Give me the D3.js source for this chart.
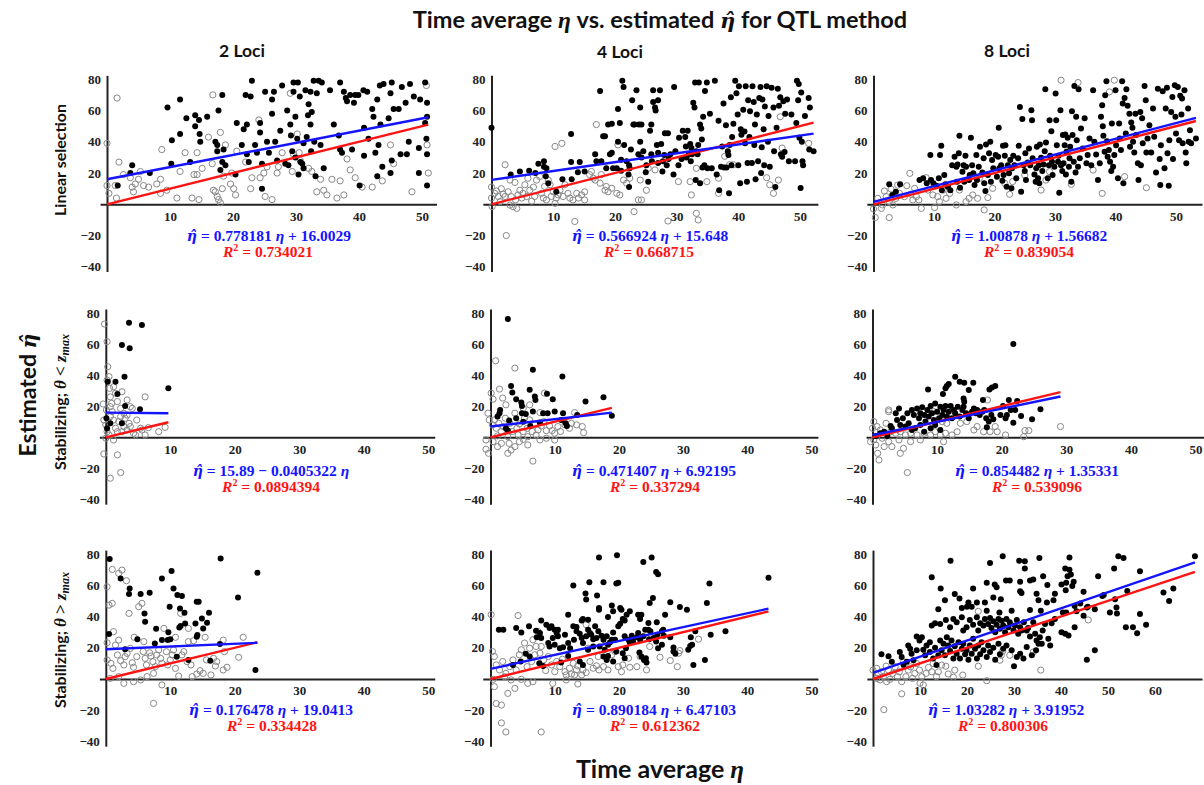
<!DOCTYPE html>
<html><head><meta charset="utf-8">
<script src="https://cdn.jsdelivr.net/npm/d3@7"></script>
<style>
body{margin:0;background:#fff;}
svg{display:block;}
</style></head><body>
<svg id="chart" width="1204" height="785"></svg>
<script>
// ---------- DATA ----------
const columnLabels = ["2 Loci", "4 Loci", "8 Loci"];
const rowLabels = ["Linear selection", "Stabilizing; ", "Stabilizing; "];
const rowSymbols = ["", "<", ">"];
const xTicks = [10, 20, 30, 40, 50];
const xTicksWide = [10, 20, 30, 40, 50, 60];
const yTicks = [80, 60, 40, 20, -20, -40];
const fitSlope = [0.778181, 0.566924, 1.00878, -0.0405322, 0.471407, 0.854482, 0.176478, 0.890184, 1.03282];
const fitIntercept = [16.0029, 15.648, 1.56682, 15.89, 6.92195, 1.35331, 19.0413, 6.47103, 3.91952];
const rSquared = [0.734021, 0.668715, 0.839054, 0.0894394, 0.337294, 0.539096, 0.334428, 0.612362, 0.800306];

const ls2Filled = [[1.7,12],[4,25],[3.7,20],[6.8,20],[9.6,62],[10.2,26],[10.3,41],[11.6,67],[11.6,45],[12.6,55],[13.2,27],[14,57],[14,50],[14.6,54],[14.7,45],[14.8,40],[15.9,56],[17.2,40],[17.5,38],[17.5,34],[17.7,60],[18,22],[18.3,27],[18.3,70],[18.5,35],[18.8,25],[20.4,19],[20.6,52],[21.4,38],[21.7,48],[22,70],[22.2,51],[22.2,32],[22.5,27],[22.8,69],[23,79],[23.5,38],[23.8,33],[24.3,46],[24.3,52],[24.6,10],[24.6,26],[25.1,72],[25.4,40],[25.7,33],[26.2,67],[26.2,58],[26.5,72],[26.7,40],[27,28],[27.5,47],[27.8,76],[28.3,26],[28.6,60],[28.8,25],[29.1,51],[29.2,44],[29.4,34],[29.6,78],[29.6,72],[29.9,56],[29.9,30],[30.2,42],[30.3,78],[30.4,19],[30.6,69],[30.7,27],[31,26],[31.2,39],[31.2,23],[31.5,73],[31.7,43],[31.9,57],[32,64],[32.3,51],[32.3,72],[32.4,34],[32.5,59],[32.8,79],[32.9,40],[33.1,18],[33.3,71],[33.6,79],[33.9,38],[34.1,78],[34.4,23],[35.4,73],[36,51],[36.8,44],[37,35],[37,78],[37.3,33],[37.6,72],[37.9,68],[38.1,66],[38.6,70],[38.9,35],[39.2,65],[39.4,70],[39.9,70],[40.1,12],[40.7,73],[40.8,49],[40.8,31],[41.3,72],[41.5,42],[42.1,61],[42.3,56],[42.6,33],[42.9,18],[42.9,67],[43.1,38],[43.3,76],[43.4,51],[43.7,24],[43.9,77],[44.7,55],[45,71],[45,20],[45.2,78],[45.2,28],[45.5,61],[46.3,61],[46.6,32],[46.8,75],[47.4,65],[47.6,32],[47.9,40],[48.1,77],[48.7,69],[49.5,20],[49.7,67],[49.5,36],[50.5,78],[50.7,42],[50.8,56],[50.8,32],[50.8,12],[50.8,65],[50.5,52]];
const ls2Open = [[0,39],[0,12],[0.3,7],[1.3,12],[1.6,68],[1.9,27],[1.5,4],[2.6,19],[3.7,17],[4,11],[4.2,8],[5,16],[5.3,21],[5.8,12],[4.5,13],[6.6,11],[7.9,13],[8.5,7],[8.7,35],[8.5,16],[9.5,9],[11.1,4],[11.6,21],[12.4,33],[13.5,4],[13.8,19],[14.3,33],[14.3,19],[14.6,3],[15.1,23],[16.1,43],[16.7,26],[16.9,9],[17.2,8],[17.5,5],[17.7,3],[18,1],[18.3,10],[16.8,70],[18,46],[18.5,18],[18.8,38],[19.6,13],[19.8,20],[20.1,10],[20.4,6],[20.6,34],[22,27],[22.8,10],[23,17],[24.1,54],[24.3,17],[24.9,20],[25.1,5],[25.4,24],[26.2,3],[27,20],[27.2,24],[27.8,33],[29.1,71],[29.4,21],[29.6,32],[30.2,45],[30.5,33],[30.7,28],[32,23],[32.5,21],[33.3,8],[33.9,16],[34.4,9],[34.9,6],[35.7,16],[36.5,4],[37,15],[37.6,6],[38.1,29],[38.6,22],[39.4,17],[40.5,11],[42.1,11],[43.7,15],[45,38],[45.5,26],[48.4,8],[50.7,76],[50.8,38],[51,20]];

const ls4Filled = [[0,49],[3.1,19],[4.6,21],[6.1,21.5],[7.1,20],[7.6,26],[8.5,27.5],[8.5,24],[8.8,18],[8.9,23],[9.2,13.5],[10.5,8],[11.5,16],[12.9,45],[13,16],[12.9,27],[14,20.5],[14.3,27],[15.1,21],[16.8,32],[17,27.5],[17.6,72.5],[17.8,27.5],[18.1,43.5],[18.4,43.5],[18.6,23],[18.9,51],[19.2,32],[19.5,33],[19.5,51.5],[19.7,23],[20.3,23],[20.5,40],[20.5,61],[20.8,52],[21,28.5],[21,21.5],[21.2,79],[21.4,75],[21.5,38],[21.9,27.5],[22.2,19],[22.3,25],[22.3,11],[22.4,23],[22.6,35],[22.8,66.5],[23,51],[23.2,51],[23.5,73],[23.8,32],[23.9,51],[24.1,62],[24.1,40],[24.3,51],[24.3,30],[24.6,34],[25,20.5],[25.1,25],[25.4,14.5],[25.7,47],[25.9,51],[25.9,32],[26,27.5],[26.2,73],[26.2,65.5],[26.5,62],[26.6,60],[26.8,38],[27,33],[27,66.5],[27,26.5],[27.3,73],[27.5,38.5],[27.7,21],[27.8,27.5],[28,31.5],[28.1,45.5],[28.4,25],[28.6,45.5],[28.7,29],[29,32],[29.5,19],[29.6,75],[29.8,34],[30.3,25],[30.4,42.5],[30.8,29],[31,47],[31.4,43],[31.5,37],[31.6,30],[31.8,47],[32,32],[32.2,38.5],[32.3,27.5],[32.4,36],[32.5,32],[32.7,65],[32.9,62],[33,78],[33.1,15.5],[33.2,34],[33.4,32],[33.5,38],[33.6,78],[33.8,51],[33.8,13.5],[34,48.5],[34.1,41.5],[34.2,23.5],[34.3,56],[34.5,25],[34.6,72.5],[34.9,78],[35,23],[35.4,58],[35.7,23],[36.2,79],[36.5,19],[36.8,53.5],[36.9,9],[37.2,24],[37.4,37],[37.6,64.5],[37.7,23.5],[38,50.5],[38.1,23.5],[38.3,34],[38.4,31.5],[38.5,7],[38.6,38],[38.8,68.5],[38.9,25],[39,43],[39.2,51.5],[39.5,79],[39.7,71],[39.9,57.5],[40,25],[40.1,75.5],[40.3,13.5],[40.4,48],[40.5,44.5],[40.8,60.5],[41,46.5],[41.1,39],[41.2,75.5],[41.4,14.5],[41.5,26.5],[41.6,66.5],[41.8,43],[41.9,59.5],[42.2,26.5],[42.3,75.5],[42.5,65.5],[42.6,38],[42.7,51],[42.8,16],[43,57.5],[43.2,27.5],[43.4,68],[43.6,75],[43.7,20],[43.8,36.5],[43.9,67],[44.1,48],[44.2,25],[44.3,62.5],[44.6,75.5],[44.8,40],[44.9,56.5],[45.1,24],[45.4,74.5],[45.7,62],[45.8,34],[46,11],[46.2,49],[46.4,74],[46.6,63],[46.8,68.5],[46.9,32],[47.1,30.5],[47.3,66],[47.5,33.5],[47.6,58],[47.9,67],[48.2,27.5],[48.6,57.5],[49.2,27.5],[49.4,52],[49.5,79],[49.7,66.5],[49.8,77],[49.9,42.5],[50.1,10.5],[50.2,71.5],[50.3,40],[50.4,27.5],[50.5,25],[50.8,56.5],[51.4,68],[51.5,35],[51.6,62],[52.2,34]];
const ls4Open = [[0,11],[0,4],[0.1,-1.5],[0.5,7],[0.8,8.5],[1.1,5],[1.4,1.7],[1.6,10],[1.9,6.5],[2.2,25.3],[2.2,5],[2.4,-20],[2.7,8],[3,15.5],[3,-0.5],[3.2,5],[3.5,-1.5],[3.8,14],[3.9,2.8],[4.1,-2.6],[4.3,6],[4.6,9],[4.9,4],[5.1,7],[5.4,12.5],[5.7,5],[5.9,16.7],[6.2,9],[6.5,2],[6.8,11],[7,5],[7.3,15.5],[7.8,17.8],[8.1,7],[8.4,4],[8.6,11.4],[8.9,2.8],[9.2,15.5],[9.5,12.5],[9.7,5],[10,8],[10.3,0.6],[10.3,37],[10.5,4],[10.8,6],[11.1,9],[11.4,39],[11.6,5],[11.9,12.5],[12.4,7],[12.7,4],[13.2,2.8],[13.5,-11],[13.8,7],[14.1,4],[14.6,6],[15.1,2.8],[15.1,8],[15.9,19],[16.2,21],[16.5,16.7],[16.8,15.5],[17,51],[17.6,13.5],[17.8,19],[18.4,9],[18.6,11.4],[18.9,8],[19.5,10.3],[20.3,7],[20.5,38],[20.8,6],[21.4,15.5],[21.9,13.5],[22.4,16.7],[23.1,-4.7],[23.8,2.8],[24.1,15.5],[24.3,2.8],[25.1,9],[25.4,23],[26.5,22],[28.6,-10.7],[30.3,14.5],[32.2,14.5],[32.4,6],[33.2,-5.8],[33.5,-10],[33.2,23],[34.9,14.5],[36.8,16.7],[36.8,7],[37.8,30.7],[38.6,25.3],[39.2,25.3],[44.6,17],[45.1,12.5],[45.7,7],[46.5,15.5],[46.8,56],[47.1,36],[51.4,39]];

const ls8Filled = [[2.6,12.8],[4.4,12.8],[3.7,8],[3.1,6],[7.6,15.5],[8.2,16.6],[8.8,13.4],[9.4,31.5],[9.5,15.5],[9.9,13.4],[10.4,11.9],[10.8,16.6],[11,31.5],[11.2,37.4],[11.3,9],[11.7,18.7],[11.9,12.8],[12.3,11.3],[12.7,9],[13,25],[13.4,30.4],[13.7,24],[13.8,14.5],[13.9,25.5],[14.1,32.6],[14.2,43.8],[14.3,10.6],[14.7,20.9],[14.9,25],[15,14.5],[15.2,31],[15.3,24],[15.8,15.5],[15.9,18.7],[16.1,42.6],[16.3,25],[16.5,19.8],[16.7,12.3],[17,31.5],[17.1,15.5],[17.4,24],[17.6,36.8],[18,20.4],[18.2,29.4],[18.3,13.4],[18.5,8.5],[18.6,38.3],[18.9,18.7],[19.1,32.6],[19.3,40],[19.4,14.5],[19.6,28.3],[19.8,23],[20.2,31.5],[20.4,17.7],[20.6,30.4],[20.7,49],[20.8,23],[21.1,25],[21.3,15],[21.4,37.4],[21.5,18.7],[21.7,31],[21.8,37.8],[22,11.3],[22.2,25],[22.4,19.8],[22.6,28.3],[22.8,10.2],[22.9,23],[23.1,31],[23.3,25],[23.6,16.6],[23.9,29.4],[24,37.4],[24.2,62.3],[24.4,8],[24.6,54.5],[24.8,25],[25,21.3],[25.1,32.6],[25.2,15.5],[25.5,26.8],[25.7,35.7],[25.9,25],[26.1,60.2],[26.2,53.8],[26.3,29.4],[26.6,19.1],[26.8,14.5],[26.9,23],[27,36.8],[27.2,16.6],[27.3,25],[27.4,13.4],[27.5,38.3],[27.7,29.8],[27.9,21.3],[28.1,25.5],[28.3,34],[28.4,73.6],[28.5,39.6],[28.8,16.6],[29,25],[29.1,53.8],[29.2,31],[29.4,46.8],[29.5,27.2],[29.6,18.7],[29.9,24],[30.1,70.9],[30.2,53.8],[30.3,37.8],[30.5,27.2],[30.6,31],[30.7,7.4],[30.9,60.2],[31,25],[31.2,21.3],[31.3,44.3],[31.4,26.2],[31.6,37.8],[31.7,44.7],[31.8,19.1],[31.9,33.6],[32.1,42.6],[32.3,24],[32.4,29.4],[32.5,36.8],[32.7,14.5],[32.8,59.6],[32.9,44.3],[33.1,27.2],[33.2,75.7],[33.4,20.4],[33.5,56],[33.6,41],[33.8,24],[33.9,73.6],[34.1,29.4],[34.3,48.5],[34.6,35.7],[34.9,55],[35.2,26.2],[35.4,31.5],[35.7,42.1],[36,25],[36.3,73],[36.5,40],[36.8,31.9],[37.1,15.5],[37.4,26.2],[37.6,56],[37.8,63.4],[37.9,50],[38,43.8],[38.2,33.6],[38.3,69.8],[38.5,78.7],[38.6,40.4],[38.7,30.4],[38.9,34.7],[39.1,27.2],[39.3,21.3],[39.4,51.7],[39.6,24],[39.8,31.5],[40,73],[40.1,37.8],[40.4,16.6],[40.6,51.7],[40.7,42.1],[40.9,34.7],[41.1,78.7],[41.2,64.5],[41.3,13.4],[41.5,68],[41.7,45.3],[41.8,73.6],[42,63],[42.3,58],[42.4,36.8],[42.6,52.3],[42.8,49],[42.9,40],[43.1,33.2],[43.3,58],[43.4,44.3],[43.7,26.2],[43.8,15.5],[44.1,59],[44.2,25],[44.4,55],[44.5,39],[44.8,75.7],[45,66.6],[45.1,33.2],[45.3,42.1],[45.6,50.6],[45.9,33.2],[46.2,61.3],[46.4,43.2],[46.7,20.4],[47,74],[47.3,29],[47.4,12.3],[47.5,37.8],[47.8,72.3],[48.1,23],[48.3,61.3],[48.5,74.5],[48.6,32.6],[48.8,11.9],[48.9,41],[49.2,59],[49.4,68.7],[49.5,29],[49.8,76.2],[49.9,56],[50,45.3],[50.3,75],[50.5,41],[50.7,69.4],[50.9,57.5],[51,67.7],[51.1,39],[51.4,73],[51.6,33.2],[51.7,26.2],[52,61.3],[52.1,40],[52.3,47.4],[52.5,39],[53.3,42.1]];
const ls8Open = [[0,-3],[0.3,-8.5],[0.7,3.8],[1.3,-2.6],[1.5,-0.4],[1.8,8.5],[2.1,4.9],[2.6,-8.5],[2.6,1.7],[2.9,9.8],[3.2,-0.4],[3.7,3.8],[4,12.3],[4.3,7],[5.1,4.9],[5.5,11.9],[6,19.8],[6.2,6.4],[6.5,2.8],[6.8,10.2],[7.1,4.9],[7.5,2.8],[7.9,-2.6],[8.7,17],[9,9.1],[9.8,6],[10.1,-2.1],[10.6,4.9],[10.9,1.7],[11.5,9.1],[12,3.8],[12.6,7],[13.7,-0.4],[14.2,9.1],[15.3,1.7],[15.8,3.8],[16.4,6],[17.2,3.8],[17.5,16.6],[18.3,-3.6],[18.9,4.3],[19.7,10.2],[21.7,13.4],[22.5,6.4],[23,14.5],[25,18.7],[28.5,15.5],[27.7,9.1],[29.1,20.9],[31,79.4],[32.7,12.8],[33.8,77.9],[36.3,21.9],[37.8,7],[39,71.9],[39.8,79.4],[41.5,17.7],[45.1,10.6]];

const sl2Filled = [[3.6,73.6],[5.6,72.2],[2.5,59.3],[3.7,57.2],[0.3,35.8],[1.5,35.8],[2.9,39],[1.8,27.8],[3,20.1],[5.3,18],[9.7,31.5],[0.1,12.2],[0.7,9],[2.5,9],[0.2,5.8]];
const sl2Open = [[-0.2,72.8],[0.2,61.5],[0.3,45.4],[0.5,39],[0.6,31.5],[0.7,26],[0.9,21.8],[-0.4,21.4],[1.5,28.3],[1.8,23],[2.3,18.6],[2.5,29.3],[2.8,15.4],[3.3,24],[3.8,19.7],[3.3,14.3],[4.1,18.6],[-0.3,11.1],[0,7.9],[0.2,3.6],[0.7,13.3],[1,16.5],[1.2,11.1],[1.5,5.8],[1.8,3.6],[2,10.1],[2.3,13.3],[2.5,3.6],[2.8,6.9],[3,12.2],[3.3,4.7],[3.6,9],[3.8,6.9],[4.3,2.6],[4.6,1.5],[4.8,11.1],[5.4,5.8],[5.6,4.7],[6.1,26],[6.1,1.5],[6.6,6.2],[8.2,3.6],[9.2,6.4],[-0.3,-10.7],[1.8,-11.3],[0.7,-26.3],[2.3,-22.7],[0,-0.6],[1.2,-1.7],[0.5,1.5],[0.1,17.6],[0.7,19.7],[0.2,36.8],[1.2,32.5]];

const sl4Filled = [[2.7,76],[1.5,17.6],[1.4,15.5],[1.1,13.3],[2.9,10.8],[3.2,33],[3.4,28.8],[4,24.5],[2.7,4.3],[4.8,22.4],[4.9,20.2],[4.9,15.5],[5.1,10],[6.1,30.5],[6.6,43.4],[6.9,26.2],[7,24],[6.6,16.6],[6.2,7.3],[7.7,9.5],[8.2,15.5],[8.8,28],[8.9,15.5],[9.7,24.5],[10,16.6],[11.2,39.1],[11.3,15.5],[11.7,9],[11,11.2],[11.9,7.3],[13.5,14.4],[14.8,23],[17.6,25.8],[18.9,13.8],[2.4,5.8],[4,12.3],[5.5,15]];
const sl4Open = [[0.8,49.2],[3.8,44.5],[0.1,28.4],[0.4,24.5],[1.4,31],[1.9,25.2],[2.4,20.9],[-0.4,15.5],[-0.2,11.2],[0.3,8],[0.6,11.2],[0.9,5.8],[1.3,9],[1.7,3.7],[2,6.9],[2.3,12.3],[3,9],[3.4,3.7],[3.8,15.5],[4.1,5.8],[4.5,8.6],[5.1,3.7],[5.3,12.3],[5.7,5.8],[6.1,11.2],[6.5,3.7],[6.9,8],[7.4,4.7],[7.9,7.3],[8.3,10.1],[8.7,4.3],[9.2,7.3],[9.6,4.3],[10,2.6],[10.5,6.9],[10.9,3.7],[11.6,8],[12.3,5.8],[12.6,9],[13.1,15.9],[13.4,8],[14.3,6.9],[14.5,3],[8.4,28.4],[-0.7,-1.7],[-0.7,-7.7],[-0.3,-10.3],[0.4,-2.8],[1.1,-6],[1.7,-3.9],[2.7,-10.3],[3.2,-8.2],[2.9,-3.9],[3.8,-6],[4.5,-2.8],[5.8,-4.9],[6.6,-15.3],[5.1,-1.3],[7.7,-1.7],[8.7,-0.6],[10,-1.7],[4.3,1.5],[2.7,0.4],[1.1,0.9],[5.8,0.4],[7.1,1.5],[7.7,15.9],[5.1,18.7],[6.1,20.9]];

const sl8Filled = [[21.8,60],[12.8,39],[13.5,35.8],[14.2,35.1],[15.6,35.1],[14.9,30.4],[8.6,30.8],[11.3,31.5],[11.5,33],[11.8,34.3],[10.9,27.8],[18.1,30.8],[18.5,32.1],[19,33],[17.1,24],[14.1,25],[14.2,22.9],[4.1,18.6],[3.6,15.4],[4.7,12.2],[5.4,15.4],[6.1,17.6],[6.4,14.3],[6.9,18.6],[7.2,12.2],[7.4,15.4],[7.7,19.3],[8,14.3],[8.2,10.1],[8.5,17.6],[8.7,13.3],[9,20.1],[9.2,15.4],[9.5,11.1],[9.7,21.8],[10,16.5],[10.3,12.2],[10.5,19.7],[10.8,14.3],[11,17.6],[11.3,20.1],[11.5,13.3],[11.8,16.5],[12.1,20.1],[12.3,12.2],[12.6,17.6],[12.8,15.4],[13.2,19.7],[13.5,13.3],[13.9,17.6],[14.1,19.7],[14.5,15.4],[14.9,12.2],[15.4,16.5],[15.7,18.6],[16,15.4],[16.2,17.6],[16.6,14.3],[17,16.5],[17.3,17.6],[17.6,12.2],[18,10.1],[17.7,6.4],[18.4,14.3],[18.7,11.6],[19.8,14.3],[20.2,20.1],[20.6,12.2],[20.8,14.3],[21.1,24],[21.4,17.6],[21.8,9.4],[22.1,17.6],[22.4,23.3],[23,13.7],[24.7,11.6],[26,18],[2.8,7.3],[3,5.8],[3.8,11.1],[4.3,7.9],[5.1,6.9],[5.6,9],[6.1,4.7],[6.6,5.8],[7.4,7.9],[8,3.6],[9,5.8],[9.7,7.9],[10.5,4.7],[1.2,2.6],[1.8,3.6],[0.5,0.9],[2.3,0.9]];
const sl8Open = [[0.2,-1.7],[-0.3,-2.8],[0.5,-4.9],[0.8,-10.3],[1,-14.6],[1.5,-0.6],[1.8,-6],[2.5,-2.8],[3,-6],[4.3,-10.3],[4.8,-7.1],[5.4,-22.7],[4.1,-1.7],[5.9,-2.8],[7.4,-1.7],[0,5.8],[0.2,10.1],[0.7,6.9],[1.2,4.7],[2.1,9],[2.5,16.5],[2.8,3.6],[3.6,2.6],[4.3,3.6],[5.1,1.5],[5.9,2.6],[6.9,1.5],[8,2.6],[9,1.5],[9.7,3.6],[10.5,1.5],[11.3,2.6],[12.3,1.5],[13.1,3.6],[11,-2.8],[10.8,10.1],[11.5,9],[13.6,9],[14.6,10.1],[15.7,4.7],[16.2,6.9],[17.2,3.6],[17.8,24],[18.2,3.6],[19,6.9],[19.3,3.6],[20.6,1.5],[23.4,0.4],[23.6,4.3],[24.2,4.3],[29.1,6.9],[2.5,17.6],[8.5,14.3],[9.5,16.5]];

const sg2Filled = [[0.6,76.8],[2.3,64.4],[3.7,58],[3.6,54.4],[5.4,54.4],[6.8,55.2],[8.7,64.4],[10.2,69.1],[10.5,58],[11.1,53.7],[11.8,53.1],[17.8,77.2],[23.5,68],[20.5,52.2],[14.1,49.5],[6,42],[9.9,46.3],[11.5,45.2],[6.1,36.7],[7.8,32.2],[0.5,28.8],[4.9,25.4],[7.6,22.8],[8.7,25],[9.6,25],[10,25.4],[9.7,29.9],[11.4,33],[11.6,33.9],[12.3,35.6],[12.2,42.4],[13.9,35.6],[14.1,27.1],[14.2,28.1],[14.4,49.5],[14.9,38.8],[15.1,32.4],[15.7,36],[16,42.4],[3,19],[11,14.3],[12.8,12.2],[17.7,22.4],[16.2,11.7],[23.2,5.8]];
const sg2Open = [[0.2,59],[0.5,47.3],[1,70.1],[1,48.4],[1.2,30.3],[0.2,23.2],[0.2,12.2],[0.8,10],[1.1,6.8],[1.5,21.7],[2,24.9],[1.8,15.4],[2,67.6],[2.5,69.7],[3.2,62.9],[3.6,42],[2.3,11.7],[2.8,9],[3,14.3],[3.3,16.4],[3.8,19.6],[4.1,10.4],[4.4,26.7],[4.3,7.5],[4.8,14.3],[5.1,46.3],[5.6,48.4],[5.9,23.9],[6.1,13.2],[6.3,9],[5.8,17.5],[6.8,16.8],[7,14.7],[7.3,11.1],[7.7,7.9],[7.9,15.4],[8.2,18.6],[8.5,13.2],[8.7,10],[9,32.4],[9.4,17.5],[9.6,9],[10,12.2],[10.3,15.4],[10.5,18.6],[10.8,26.7],[10.8,6.8],[11.3,1.9],[11.6,42],[11.8,15.4],[12.1,17.5],[12.6,11.1],[12.8,32.4],[12.8,23.9],[13.2,9],[13.6,24.5],[14.1,3.2],[14.6,5.3],[15.1,3.6],[15.4,26.7],[15.6,12.2],[16.3,2.6],[17,8.3],[18.2,24.9],[18.4,17.5],[18.8,7.5],[18.2,5.8],[20.6,13.9],[21.3,26.7],[8.7,-3.8],[7.4,-15.6],[2.8,-2.8],[4.3,-1.7],[5.4,-0.6],[0.7,0.4],[2,1.5],[6.4,1.5],[7.4,3.6],[13.4,1.5],[17.2,11.1],[16.7,13.2]];

const sg4Filled = [[16.9,77.7],[19.7,79.2],[23.8,74.9],[25.1,77.7],[25.8,68.5],[26.1,67],[12.9,59.9],[15.4,62],[17.6,62],[19.6,61.2],[19.9,61.6],[34.1,61.2],[43.3,64.8],[14.8,54.7],[14.9,50.9],[16.6,53.4],[24.8,48.7],[25.3,51.9],[28,49.1],[33.7,48.7],[18.9,47],[20.2,45.5],[20.4,44.4],[29.5,46.1],[30.6,44.4],[21.7,43.3],[13.4,33.3],[12.1,41.2],[14.2,37.5],[14.4,38.4],[15.2,38],[16.9,44.4],[16.9,45.5],[18.3,39.7],[19.1,43.3],[20.6,38.4],[20.9,37.5],[21.2,41.2],[23,41.2],[23.5,41.2],[24.6,35.8],[25.9,36.3],[27.2,41.2],[23.3,38.4],[4,32.6],[1.3,31.5],[2,31.5],[4.8,29.8],[6,33.7],[7.1,30.9],[7.7,29.4],[7.9,26.2],[7.2,26.8],[7.9,37.5],[8.7,34.8],[9.2,32.6],[9.5,33.7],[10,31.5],[10.3,29.4],[10.5,27.3],[9.7,26.2],[9,23],[9.2,20.8],[10,21.9],[10.8,19.7],[11.3,20.4],[12.1,23],[12.4,19.7],[12.9,33.7],[13,25.1],[13.4,30.5],[13.9,29],[14.2,26.2],[14.4,23],[14.9,27.3],[15.2,31.5],[15.5,29.4],[15.7,28.3],[16,25.5],[16.3,33.7],[16.5,26.2],[16.8,30.5],[17,20.8],[17.3,27.7],[17.6,25.1],[17.8,18.7],[18.1,27.3],[18.3,21.9],[18.6,23.4],[18.9,25.1],[19.1,29.8],[19.4,25.1],[19.6,17.6],[19.9,33.7],[20.2,35.4],[20.6,16.5],[20.9,27.3],[21.1,19.7],[21.5,25.1],[21.7,23.4],[22,27.7],[22.2,24],[22.8,26.8],[23,29.4],[23.2,17],[23.3,25.1],[23.5,14.4],[23.8,27.3],[23.9,12.2],[24.1,31.5],[24.2,13.3],[24.3,10.5],[24.6,31.5],[24.7,25.5],[24.9,30.5],[25.4,26.2],[25.8,24],[26,28.3],[26.1,19.7],[26.7,30.5],[26.7,21.9],[26.9,31.5],[27,27.7],[28,26.8],[28.5,17.6],[28.5,20.2],[28.8,16.1],[30.8,18.7],[31.1,21.2],[31.2,26.8],[31.4,21.9],[31.6,9],[31.9,30.5],[33.4,12.2],[34.3,28.3],[36.6,30.5],[5.5,16.1],[7.6,10.1],[8.2,8.4],[11,10.5],[12.1,14.8],[13.9,11.2],[14.4,9],[11.6,28.3],[10.5,31.5],[15.2,18.7],[20.9,13.3],[19.1,11.2],[18.1,12.2],[17.6,14.4],[16,20.8],[18.3,14.8],[3.5,9],[4.7,11.2],[6.1,14.4]];
const sg4Open = [[0.1,41.2],[4.3,40.6],[0.3,17.6],[0.6,14.4],[0.9,9],[1.4,5.8],[1.9,11.2],[2.4,3.6],[3,7.9],[3.5,12.2],[4,5.8],[4.5,15.5],[4.8,18.7],[5.3,23],[5.7,7.9],[6.1,19.7],[6.4,11.2],[6.6,25.1],[6.9,15.5],[7.1,20.8],[7.4,30.5],[7.7,16.5],[7.9,20.8],[8.3,12.2],[8.6,5.4],[9,14.4],[9.5,9],[10,4.7],[10.3,11.2],[10.8,7.9],[11.2,12.7],[11.6,4.7],[11.8,2.6],[12.3,6.9],[12.6,3.2],[12.9,10.1],[13.1,2.6],[13.4,5.8],[13.6,8.4],[14.2,2.6],[14.4,5.8],[14.9,4.1],[14.9,34.8],[15.2,19.7],[15.5,11.2],[16,6.9],[16.5,8.4],[16.8,14.4],[16.9,5.8],[17.6,7.9],[18.1,13.3],[18.3,5.8],[18.9,15.5],[19.4,17.6],[19.9,7.9],[20.4,4.7],[20.6,9],[21.5,13.3],[21.7,7.5],[22.8,7.9],[23.3,14.4],[24.3,5.8],[24.8,20.8],[26.4,13.9],[28,11.8],[29.1,7.9],[29.3,16.5],[29.5,18.2],[32.4,25.5],[0.4,-0.2],[0.6,-4.9],[0.9,-15.7],[1.7,-28.1],[2.4,-33.9],[2.7,-9.2],[3.8,-6],[1.7,-16.7],[5.8,-2.8],[6.6,-1.7],[7.9,-33.9],[13.6,-3.2],[11.8,-0.6],[9.7,-2.8],[2.2,1.5],[3.2,-0.6],[4.8,-0.2]];

const sg8Filled = [[16.5,75.7],[24.9,74.3],[27.6,78.5],[31.1,75.7],[32.3,75.3],[35.4,77.4],[41.8,77.8],[52.2,78.5],[53.3,77.4],[68.5,78.5],[12.5,65.2],[32.3,70.7],[40.9,70.7],[41.8,70],[51.3,70.7],[56.8,69],[41.4,65.8],[42.1,66.9],[36.2,65.8],[47.9,65.8],[14.4,58],[21.3,58],[24.2,61.6],[25.9,60.5],[28.3,63],[29.1,63],[31.3,62.2],[33.4,63],[34.1,63.7],[37.1,60.1],[40.1,60.5],[41.1,61.6],[42.4,59.5],[42.7,62.2],[26.3,58.8],[31.3,56.1],[31.6,55.1],[34.8,54.6],[38.7,54.6],[41,56.8],[44.8,55.9],[54.1,56.3],[61.8,55.3],[63.9,58],[15.3,50.4],[20.3,48.9],[22.1,48.9],[23.8,48.9],[25.6,52.1],[27.2,51.1],[18.4,51.5],[17.4,54.4],[20,46.2],[21,46.2],[35.2,50.4],[37,48.9],[38.4,50.4],[44.1,48.3],[49.1,53.8],[51.5,51.1],[63,50],[13.9,44.7],[18.9,45.4],[24.2,43.7],[26.9,42.6],[29.5,43.7],[33.4,44.1],[35.7,43.7],[40.4,42.6],[41.1,42.6],[42.9,46.8],[45.7,46.2],[47.2,44.7],[48.8,53.2],[50.4,42.6],[51.8,45.8],[56.8,41.6],[51.9,42],[12.5,34.2],[13.2,35.7],[14.3,35.2],[15.5,37.8],[16.4,33.1],[17.1,38.4],[17.8,36.3],[18.9,39.5],[19.2,31],[19.9,33.1],[20.6,37.8],[21.3,34.8],[22.1,39.5],[22.4,31],[22.8,35.7],[23.5,34.2],[23.8,38.4],[24.5,35.2],[24.9,39],[25.2,32.7],[25.6,36.9],[26,30],[26.3,34.8],[26.7,38.4],[27,32.1],[27.4,37.3],[27.7,34.2],[28.1,30],[28.4,38.4],[28.8,33.1],[29.1,36.3],[29.9,31],[30.2,34.2],[30.6,37.8],[30.9,28.9],[31.3,33.1],[31.6,31],[32.1,36.3],[32.7,31],[33,32.7],[33.4,27.2],[34.1,36.3],[34.5,28.9],[34.8,24.7],[35.2,22.6],[35.5,26.8],[36.1,31],[36.6,35.2],[37.3,25.7],[37.7,21.5],[38,35.7],[38.7,38.4],[40.1,30],[40.9,28.9],[41.6,27.8],[42.9,33.1],[43.3,43.3],[44.8,40.5],[45.5,45.8],[47.2,18.4],[45.5,12.4],[53.8,33.1],[55.3,33.1],[56.2,29.3],[58.1,34.8],[8.2,16.2],[9.3,18.4],[9.9,24.7],[10.4,26.8],[9.3,27.2],[11.4,21.5],[12.1,23.6],[10.7,18.8],[11.1,15.2],[12.1,17.3],[12.8,13.1],[13.2,20],[13.5,8.9],[13.9,15.2],[14.3,24.7],[14.6,18.4],[15,22.6],[15.3,15.2],[15.7,26.8],[16,21.5],[16.4,17.9],[16.7,24.7],[17.1,13.1],[17.4,20.9],[17.8,16.2],[18.2,23.6],[18.5,13.1],[18.9,19.4],[19.2,22.6],[19.6,15.8],[19.9,18.4],[20.3,12.4],[20.6,21.5],[21,16.2],[21.3,25.7],[21.7,19.4],[22.1,13.1],[22.4,21.5],[22.8,15.8],[23.1,23.6],[23.5,18.4],[24.2,14.1],[24.5,21.5],[24.9,17.3],[25.6,20],[26,12.4],[26.7,22.6],[27,15.8],[27.7,19.4],[28.4,21.5],[29.5,18.4],[30,8.2],[30.6,14.1],[31.3,16.2],[32,13.1],[32.7,20.5],[33.8,15.2],[34.7,18.4],[35.9,22.6],[1.8,15.8],[3.3,14.6],[4,11],[5.7,17.3],[6.1,14.1],[6.5,8.9],[7.5,21.5],[7.9,19.4],[8.6,12],[7.2,11]];
const sg8Open = [[0,5.7],[0.8,6.8],[1.1,3.6],[1.8,4.6],[2.2,1.5],[2.8,8.2],[3.3,5.7],[3.6,-0.2],[4.2,3.6],[4.7,7.8],[5.2,1.5],[5.6,4.6],[6.1,-1.7],[6.1,-9.5],[6.5,11],[7,1.5],[7.5,5.7],[8,7.8],[8.4,0.4],[8.9,3.6],[9.3,9.9],[9.9,5.7],[10,-2.7],[10.4,1.5],[10.7,-3.8],[11.3,3.6],[11.8,7.4],[12.5,4.6],[12.8,9.9],[13.5,1.5],[13.9,4.6],[14.6,8.9],[15.5,8.2],[16,3.2],[17.1,1.1],[17.4,5.7],[19.1,2.5],[22.4,43.3],[22.4,8.2],[24.2,-1.1],[27,12],[27.6,17.9],[27.3,15.2],[29.1,15.2],[34.1,17.3],[35.7,5.7],[45.8,37.8],[2.3,-19.6],[1.5,-0.6],[2.9,-1.7],[0.8,0.4]];

const panelFilled = [ls2Filled, ls4Filled, ls8Filled, sl2Filled, sl4Filled, sl8Filled, sg2Filled, sg4Filled, sg8Filled];
const panelOpen = [ls2Open, ls4Open, ls8Open, sl2Open, sl4Open, sl8Open, sg2Open, sg4Open, sg8Open];

// ---------- LAYOUT ----------
const layout = [
  {x0:107,   kx:6.3,  xs:-1.1, xe:52.3},
  {x0:491.5, kx:6.17, xs:-1.4, xe:52.9},
  {x0:873.5, kx:6.05, xs:-1.1, xe:54.3},
  {x0:105.8, kx:6.45, xs:-1.0, xe:51.0},
  {x0:490.5, kx:6.42, xs:-1.2, xe:51.0},
  {x0:872.5, kx:6.46, xs:-1.0, xe:51.3},
  {x0:105.8, kx:6.45, xs:-1.0, xe:51.0},
  {x0:490.5, kx:6.42, xs:-1.2, xe:51.0},
  {x0:873,   kx:4.7,  xs:-1.3, xe:70.0}
];
const rowGeom = [{y0:204.3, ky:1.563}, {y0:437.3, ky:1.555}, {y0:679, ky:1.5625}];
const eqPos = [[269,241],[650,241],[1029,241],[271,476],[654,476],[1037,476],[271,715],[654,715],[1006,715]];
const r2Pos = [[268,257],[649,257],[1029,257],[271,492],[655,492],[1037,492],[272,731],[655,731],[1003,731]];

const SERIF = "'Liberation Serif','Times New Roman',serif";
const HATSERIF = "'DejaVu Serif','Liberation Serif',serif";
const SANS = "Lato,'Open Sans',sans-serif";
const BLUE = "#1414ff", RED = "#ff1414";

const svg = d3.select("#chart");
svg.append("rect").attr("width",1204).attr("height",785).attr("fill","#fff");

const fmt = v => String(Math.abs(v));

// eta with a combining hat, as one text run
function etaHat(t, scale) {
  t.append("tspan").attr("font-family", HATSERIF).attr("font-style", "italic")
    .attr("font-size", scale).text("η\u0302");
}

for (let i = 0; i < 9; i++) {
  const L = layout[i], R = rowGeom[Math.floor(i/3)];
  const x = d3.scaleLinear().domain([L.xs, L.xe]).range([L.x0 + L.xs*L.kx, L.x0 + L.xe*L.kx]);
  const y = d3.scaleLinear().domain([-43, 82.5]).range([R.y0 + 43*R.ky, R.y0 - 82.5*R.ky]);
  const g = svg.append("g");

  // axes
  const xa = g.append("g").attr("transform", `translate(0,${y(0)})`)
    .call(d3.axisBottom(x).tickValues(i === 8 ? xTicksWide : xTicks).tickSize(0).tickSizeOuter(0).tickPadding(7).tickFormat(d3.format("d")));
  const ya = g.append("g").attr("transform", `translate(${x(0)},0)`)
    .call(d3.axisLeft(y).tickValues(yTicks).tickSize(0).tickSizeOuter(0).tickPadding(6).tickFormat(d3.format("d")));
  [xa, ya].forEach(a => {
    a.select(".domain").attr("stroke", "#222").attr("stroke-width", 2);
    a.selectAll("text").attr("font-family", SERIF).attr("font-weight", "bold").attr("font-size", 13).attr("fill", "#222");
  });

  // points
  g.selectAll("circle.open").data(panelOpen[i]).join("circle").attr("class","open")
    .attr("cx", d => x(d[0])).attr("cy", d => y(d[1])).attr("r", 3.1)
    .attr("fill", "none").attr("stroke", "#888").attr("stroke-width", 1);
  g.selectAll("circle.filled").data(panelFilled[i]).join("circle").attr("class","filled")
    .attr("cx", d => x(d[0])).attr("cy", d => y(d[1])).attr("r", 3.0)
    .attr("fill", "#000");

  // lines: red = identity, blue = fitted regression
  const xmax = d3.max(panelFilled[i].concat(panelOpen[i]), d => d[0]);
  const ends = [0, xmax];
  const line = d3.line().x(d => x(d[0])).y(d => y(d[1]));
  g.append("path").attr("d", line(ends.map(v => [v, v])))
    .attr("stroke", RED).attr("stroke-width", 2.4).attr("fill", "none");
  g.append("path").attr("d", line(ends.map(v => [v, fitIntercept[i] + fitSlope[i]*v])))
    .attr("stroke", BLUE).attr("stroke-width", 2.4).attr("fill", "none");

  // equation
  const fs = 15.5;
  const eq = g.append("text").attr("x", eqPos[i][0]).attr("y", eqPos[i][1])
    .attr("text-anchor", "middle").attr("font-family", SERIF).attr("font-weight", "bold")
    .attr("font-size", fs).attr("fill", BLUE);
  etaHat(eq, 14);
  if (fitSlope[i] < 0) {
    eq.append("tspan").text(" = " + fmt(fitIntercept[i]) + " \u2212 " + fmt(fitSlope[i]) + " ");
    eq.append("tspan").attr("font-style", "italic").text("η");
  } else {
    eq.append("tspan").text(" = " + fmt(fitSlope[i]) + " ");
    eq.append("tspan").attr("font-style", "italic").text("η");
    eq.append("tspan").text(" + " + fmt(fitIntercept[i]));
  }
  const r2 = g.append("text").attr("x", r2Pos[i][0]).attr("y", r2Pos[i][1])
    .attr("text-anchor", "middle").attr("font-family", SERIF).attr("font-weight", "bold")
    .attr("font-size", fs).attr("fill", RED);
  r2.append("tspan").attr("font-style", "italic").text("R");
  r2.append("tspan").attr("dy", -6).attr("font-size", 10).text("2");
  r2.append("tspan").attr("dy", 6).text(" = " + rSquared[i]);
}

// titles
const title = svg.append("text").attr("x", 660).attr("y", 28).attr("text-anchor", "middle")
  .attr("font-family", SANS).attr("font-weight", "bold").attr("font-size", 23.5).attr("fill", "#111");
title.append("tspan").text("Time average ");
title.append("tspan").attr("font-family", SERIF).attr("font-style", "italic").text("η");
title.append("tspan").text(" vs. estimated ");
etaHat(title, 21);
title.append("tspan").text(" for QTL method");

const colX = [242, 620, 1007], colY = [57, 58, 57];
columnLabels.forEach((c, j) => {
  svg.append("text").attr("x", colX[j]).attr("y", colY[j]).attr("text-anchor", "middle")
    .attr("font-family", SANS).attr("font-weight", "bold").attr("font-size", 17.5).attr("fill", "#111").text(c);
});

const xt = svg.append("text").attr("x", 660).attr("y", 778).attr("text-anchor", "middle")
  .attr("font-family", SANS).attr("font-weight", "bold").attr("font-size", 25).attr("fill", "#111");
xt.append("tspan").text("Time average ");
xt.append("tspan").attr("font-family", SERIF).attr("font-style", "italic").text("η");

const yt = svg.append("text").attr("transform", "translate(36,395) rotate(-90)").attr("text-anchor", "middle")
  .attr("font-family", SANS).attr("font-weight", "bold").attr("font-size", 23).attr("fill", "#111");
yt.append("tspan").text("Estimated ");
etaHat(yt, 20.5);

const rowCY = [160, 402, 640];
rowLabels.forEach((r, k) => {
  const t = svg.append("text").attr("transform", `translate(66,${rowCY[k]}) rotate(-90)`).attr("text-anchor", "middle")
    .attr("font-family", SANS).attr("font-weight", "bold").attr("font-size", 16).attr("fill", "#111");
  t.append("tspan").text(r);
  if (rowSymbols[k]) {
    t.append("tspan").attr("font-family", SERIF).attr("font-style", "italic").attr("font-size", 17).text("θ");
    t.append("tspan").attr("font-family", SERIF).attr("font-size", 17).text(" " + rowSymbols[k] + " ");
    t.append("tspan").attr("font-family", SERIF).attr("font-style", "italic").attr("font-size", 17).text("z");
    t.append("tspan").attr("font-family", SERIF).attr("font-style", "italic").attr("font-size", 12).attr("dy", 3).text("max");
  }
});
</script>
</body></html>
